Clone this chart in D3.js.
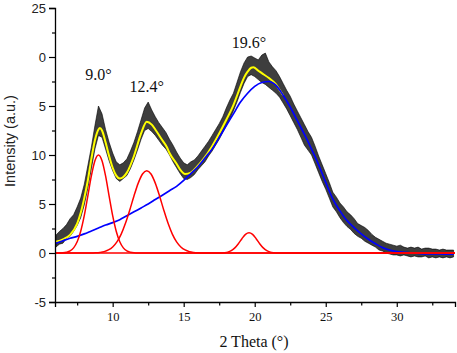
<!DOCTYPE html>
<html><head><meta charset="utf-8">
<script src="https://cdn.jsdelivr.net/npm/d3@7"></script>
<style>html,body{margin:0;padding:0;background:#fff;}svg{display:block;}</style>
</head><body>
<svg id="chart" width="457" height="353"></svg>
<script>
// ---- data ----
// measured XRD trace: lower / upper envelope of the noisy black signal, 0.25° steps
const dataX = d3.range(0, 113).map(i => 6 + i * 0.25);
const dataLo = [0.6,0.9,1.0,1.5,1.7,2.2,2.8,3.6,4.9,6.6,8.6,10.6,12.0,11.8,10.6,9.4,8.4,7.6,7.3,7.6,7.9,8.6,9.5,10.5,11.6,12.5,12.7,12.4,12.0,11.5,11.0,10.6,10.0,9.3,8.7,8.1,7.6,7.5,7.7,8.0,8.5,8.9,9.3,9.9,10.4,11.0,11.6,12.3,13.0,13.7,14.5,15.4,16.4,17.3,18.0,18.2,18.0,17.7,17.4,17.2,16.9,16.6,16.3,15.9,15.3,14.7,14.0,13.3,12.6,11.8,11.0,10.5,10.0,9.1,8.2,7.3,6.5,5.6,4.7,4.2,3.6,3.1,2.7,2.4,2.0,1.7,1.5,1.2,1.0,0.8,0.6,0.3,0.2,0.0,-0.1,-0.2,-0.2,-0.3,-0.2,-0.3,-0.4,-0.3,-0.4,-0.4,-0.3,-0.5,-0.4,-0.5,-0.4,-0.5,-0.4,-0.5,-0.4];
const dataHi = [1.8,2.2,2.5,2.9,3.5,3.9,4.7,5.6,7.0,8.9,10.8,13.0,15.0,14.2,12.6,11.3,10.2,9.3,9.0,9.2,9.6,10.4,11.3,12.4,13.6,14.8,15.4,14.6,13.9,13.3,12.8,12.3,11.6,11.0,10.3,9.7,9.2,9.0,9.3,9.5,9.9,10.4,10.9,11.4,12.0,12.6,13.2,13.9,14.8,15.6,16.3,17.4,18.5,19.4,20.0,20.1,19.9,19.7,20.2,20.4,19.5,19.0,18.6,18.0,17.3,16.6,16.0,15.2,14.5,13.8,13.1,12.4,11.8,10.9,9.9,9.0,8.1,7.2,6.2,5.7,5.1,4.7,4.2,3.9,3.5,3.0,2.8,2.6,2.3,1.9,1.6,1.4,1.2,1.0,0.9,0.8,0.7,0.8,0.6,0.5,0.6,0.5,0.6,0.4,0.5,0.5,0.4,0.4,0.3,0.4,0.3,0.3,0.3];

// cumulative fit (yellow)
const fitX = [6.0,6.5,7.0,7.5,7.75,8.0,8.25,8.5,8.75,9.0,9.1,9.25,9.5,9.75,10.0,10.25,10.5,10.75,11.0,11.5,12.0,12.4,12.75,13.0,13.5,13.8,14.0,14.5,14.75,15.1,15.5,16.0,16.4,17.0,17.5,18.0,18.5,19.0,19.25,19.5,19.75,19.9,20.25,20.5,21.0,21.5,21.75,22.0];
const fitY = [1.15,1.4,1.85,3.0,4.1,5.6,7.4,9.6,11.5,12.6,12.75,12.5,11.3,9.9,8.7,7.9,7.6,7.75,8.2,9.9,12.2,13.4,13.1,12.6,11.5,10.85,10.2,9.1,8.5,8.06,8.2,8.9,9.6,10.9,12.2,13.6,15.1,17.0,17.9,18.5,18.9,18.95,18.6,18.35,17.85,17.2,16.65,16.1];

// amorphous background (blue)
const bgX = d3.range(0, 57).map(i => 6 + i * 0.5);
const bgY = [1.0,1.25,1.5,1.7,1.95,2.25,2.55,2.85,3.1,3.4,3.8,4.2,4.6,5.0,5.45,5.9,6.35,6.8,7.4,8.1,8.8,9.7,10.6,11.8,13.0,14.2,15.4,16.3,17.0,17.4,17.5,17.1,16.1,14.9,13.5,12.1,10.6,9.0,7.2,5.5,4.3,3.3,2.6,1.95,1.4,0.95,0.55,0.3,0.15,0.07,0.0,-0.04,-0.08,-0.1,-0.1,-0.11,-0.12];

// crystalline peaks (red)
const peak1X = [6.0,6.25,6.5,6.75,7.0,7.25,7.5,7.75,8.0,8.25,8.5,8.75,9.0,9.25,9.5,9.75,10.0,10.25,10.5,10.75,11.0,11.25,11.5,11.75,34.1];
const peak1Y = [0,0,0.02,0.08,0.21,0.52,1.14,2.22,3.81,5.81,7.86,9.41,10.0,9.41,7.86,5.81,3.81,2.22,1.14,0.52,0.21,0.08,0.02,0,0];
const peak2X = [6.0,8.5,8.8,9.1,9.4,9.7,10.0,10.3,10.6,10.9,11.2,11.5,11.8,12.1,12.4,12.7,13.0,13.3,13.6,13.9,14.2,14.5,14.8,15.1,15.4,15.7,16.0,16.3,34.1];
const peak2Y = [0,0,0.02,0.06,0.14,0.31,0.62,1.14,1.93,3.03,4.37,5.82,7.13,8.06,8.4,8.06,7.13,5.82,4.37,3.03,1.93,1.14,0.62,0.31,0.14,0.06,0.02,0,0];
const peak3X = [6.0,17.6,17.85,18.1,18.35,18.6,18.85,19.1,19.35,19.6,19.85,20.1,20.35,20.6,20.85,21.1,21.35,21.6,34.1];
const peak3Y = [0,0,0.03,0.09,0.24,0.52,0.95,1.46,1.90,2.07,1.90,1.46,0.95,0.52,0.24,0.09,0.03,0,0];

const peakLabels = ["9.0°", "12.4°", "19.6°"];
const peakLabelX = [9.0, 12.4, 19.6];
const peakLabelY = [17.7, 16.4, 20.9];

const xMajorTicks = [10, 15, 20, 25, 30];
const xMinorTicks = [7.5, 12.5, 17.5, 22.5, 27.5, 32.5];
const yMajorTicks = [-5, 0, 5, 10, 15, 20, 25];
const yTickLabels = ["-5", "0", "5", "10", "5", "0", "25"];
const yMinorTicks = [-2.5, 2.5, 7.5, 12.5, 17.5, 22.5];
const xTitle = "2 Theta (°)";
const yTitle = "Intensity (a.u.)";

// ---- drawing ----
const svg = d3.select("#chart");
const x = d3.scaleLinear().domain([5.94, 34.1]).range([55, 455]);
const y = d3.scaleLinear().domain([-5, 25]).range([302, 8]);

// black measured band (min/max envelope of the noisy trace)
const band = d3.area()
  .x((d, i) => x(dataX[i]))
  .y0((d, i) => y(dataLo[i]))
  .y1((d, i) => y(dataHi[i]));
svg.append("path").datum(dataX).attr("d", band)
  .attr("fill", "#1c1c1c").attr("fill-opacity", 0.85)
  .attr("stroke", "#000").attr("stroke-width", 0.6).attr("stroke-linejoin", "miter");

function drawLine(xs, ys, color, w) {
  const line = d3.line().x((d, i) => x(xs[i])).y((d, i) => y(ys[i])).curve(d3.curveMonotoneX);
  svg.append("path").datum(xs).attr("d", line)
    .attr("fill", "none").attr("stroke", color).attr("stroke-width", w);
}
drawLine(fitX, fitY, "#ffff00", 2);
drawLine(bgX, bgY, "#0000ff", 1.7);
drawLine(peak1X, peak1Y, "#ff0000", 1.5);
drawLine(peak2X, peak2Y, "#ff0000", 1.5);
drawLine(peak3X, peak3Y, "#ff0000", 1.5);

// axes
const xAxis = svg.append("g").attr("transform", "translate(0,302)");
xAxis.call(d3.axisBottom(x).tickValues(xMajorTicks).tickSize(5).tickPadding(5).tickFormat(d3.format("d")));
xAxis.append("g").call(d3.axisBottom(x).tickValues(xMinorTicks).tickSize(3.5).tickFormat(""));
xAxis.selectAll(".domain").attr("stroke", "#000").attr("stroke-width", 1.3);
xAxis.selectAll("g > g").select(".domain").remove();
xAxis.selectAll("line").attr("stroke", "#000").attr("stroke-width", 1.2);
xAxis.selectAll("text").attr("font-family", "'Liberation Serif', 'Times New Roman', serif")
  .attr("font-size", 12.5).attr("fill", "#111");

const yAxis = svg.append("g").attr("transform", "translate(55,0)");
yAxis.call(d3.axisLeft(y).tickValues(yMajorTicks).tickSize(6).tickPadding(3)
  .tickFormat((d, i) => yTickLabels[yMajorTicks.indexOf(d)]));
yAxis.append("g").call(d3.axisLeft(y).tickValues(yMinorTicks).tickSize(3).tickFormat(""));
yAxis.selectAll(".domain").attr("stroke", "#000").attr("stroke-width", 1.3);
yAxis.selectAll("g > g").select(".domain").remove();
yAxis.selectAll("line").attr("stroke", "#000").attr("stroke-width", 1.2);
yAxis.selectAll("text").attr("font-family", "'Liberation Sans', Arial, sans-serif")
  .attr("font-size", 13).attr("fill", "#222");

// titles
svg.append("text").text(xTitle)
  .attr("x", 254).attr("y", 347).attr("text-anchor", "middle")
  .attr("font-family", "'Liberation Serif', 'Times New Roman', serif").attr("font-size", 16).attr("fill", "#111");
svg.append("text").text(yTitle)
  .attr("transform", "translate(15,141) rotate(-90)").attr("text-anchor", "middle")
  .attr("font-family", "'Liberation Sans', Arial, sans-serif").attr("font-size", 14.5).attr("fill", "#222");

// peak annotations
svg.append("g").selectAll("text").data(peakLabels).join("text")
  .text(d => d)
  .attr("x", (d, i) => x(peakLabelX[i]))
  .attr("y", (d, i) => y(peakLabelY[i]))
  .attr("text-anchor", "middle")
  .attr("font-family", "'Liberation Serif', 'Times New Roman', serif")
  .attr("font-size", 16).attr("fill", "#111");
</script>
</body></html>
